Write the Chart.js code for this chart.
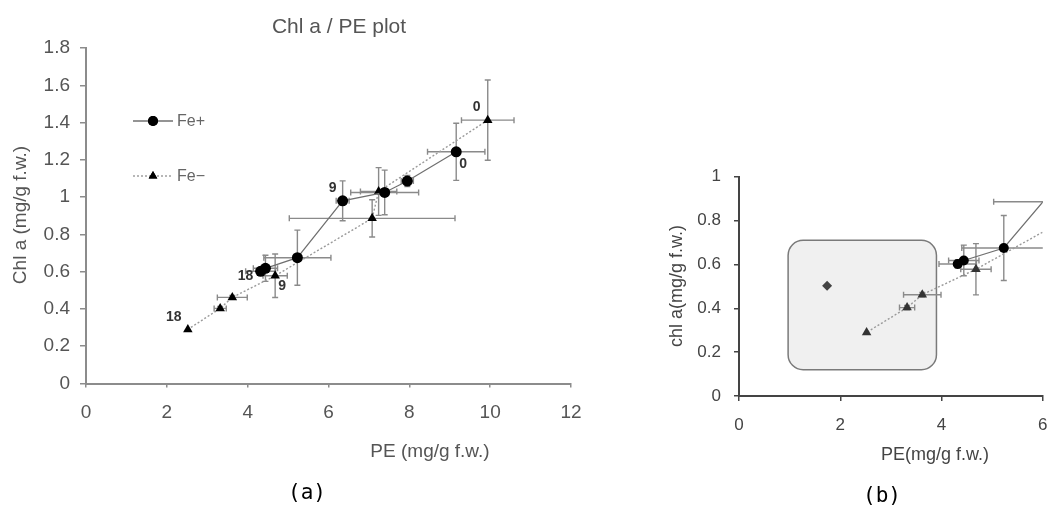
<!DOCTYPE html>
<html>
<head>
<meta charset="utf-8">
<script src="https://cdn.jsdelivr.net/npm/chart.js@4.4.0/dist/chart.umd.min.js"></script>
<style>
  html, body { margin: 0; padding: 0; background: #fff; }
  #wrap { position: relative; width: 1047px; height: 511px; overflow: hidden; }
  #chartA { position: absolute; left: 0; top: 0; }
  #chartB { position: absolute; left: 620px; top: 150px; }
</style>
</head>
<body>
<div id="wrap">
  <canvas id="chartA" width="600" height="511"></canvas>
  <canvas id="chartB" width="442" height="361"></canvas>
</div>
<script>
// ======================================================
// DATA
// ======================================================
const dayLabels = ["0", "", "", "9", "", "", "18"];

// Fe+ (circles)
const fePlusPE     = [9.16, 7.95, 7.39, 6.35, 5.23, 4.44, 4.32];
const fePlusChl    = [1.243, 1.086, 1.025, 0.980, 0.675, 0.618, 0.602];
const fePlusPEErr  = [0.71, 0.15, 0.84, 0.16, 0.83, 0.30, 0.37];
const fePlusChlErr = [0.153, 0.03, 0.12, 0.107, 0.148, 0.07, 0.02];

// Fe- (triangles)
const feMinusPE     = [9.94, 7.24, 7.08, 4.68, 3.62, 3.32, 2.52];
const feMinusChl    = [1.413, 1.03, 0.886, 0.578, 0.462, 0.403, 0.290];
const feMinusPEErr  = [0.65, 0.45, 2.05, 0.30, 0.37, 0.15, 0];
const feMinusChlErr = [0.215, 0.128, 0.10, 0.117, 0.01, 0.01, 0];

// extra point in panel (b)
const extraPE  = [1.74];
const extraChl = [0.503];

// axis ranges
const xRangeA = [0, 12], yRangeA = [0, 1.8];
const xRangeB = [0, 6],  yRangeB = [0, 1];

const toPoints = (xs, ys) => xs.map((v, i) => ({ x: v, y: ys[i] }));

Chart.defaults.font.family = "'Liberation Sans', Arial, sans-serif";
Chart.defaults.animation = false;


// ======================================================
// PLUGINS
// ======================================================
const errorBars = {
  id: "errorBars",
  beforeDatasetsDraw(chart) {
    const { ctx, chartArea: a, scales: { x, y } } = chart;
    const cap = 3;
    ctx.save();
    ctx.beginPath();
    ctx.rect(a.left, a.top, a.right - a.left, a.bottom - a.top);
    ctx.clip();
    ctx.strokeStyle = "#8a8a8a";
    ctx.lineWidth = 1.4;
    chart.data.datasets.forEach(ds => {
      if (!ds.xErr) return;
      ds.data.forEach((p, i) => {
        const px = x.getPixelForValue(p.x);
        const py = y.getPixelForValue(p.y);
        const ex = ds.xErr[i], ey = ds.yErr[i];
        ctx.beginPath();
        if (ex) {
          const l = x.getPixelForValue(p.x - ex), r = x.getPixelForValue(p.x + ex);
          ctx.moveTo(l, py); ctx.lineTo(r, py);
          ctx.moveTo(l, py - cap); ctx.lineTo(l, py + cap);
          ctx.moveTo(r, py - cap); ctx.lineTo(r, py + cap);
        }
        if (ey) {
          const t = y.getPixelForValue(p.y + ey), b = y.getPixelForValue(p.y - ey);
          ctx.moveTo(px, t); ctx.lineTo(px, b);
          ctx.moveTo(px - cap, t); ctx.lineTo(px + cap, t);
          ctx.moveTo(px - cap, b); ctx.lineTo(px + cap, b);
        }
        ctx.stroke();
      });
    });
    ctx.restore();
  }
};

function makeTexts(items) {
  return {
    id: "texts",
    afterDraw(chart) {
      const ctx = chart.ctx;
      items.forEach(t => {
        ctx.save();
        ctx.translate(t.x, t.y);
        if (t.rot) ctx.rotate(t.rot);
        ctx.font = t.font;
        ctx.fillStyle = t.color || "#555";
        ctx.textAlign = "center";
        ctx.textBaseline = "middle";
        ctx.fillText(t.text, 0, 0);
        ctx.restore();
      });
    }
  };
}

// day labels next to the points of panel (a)
const labelOffsets = [
  [[7, 12], null, null, [-10, -13], null, null, [-15, 5]],
  [[-11, -13], null, null, [7, 10], null, null, [-14, -12]]
];
const dayLabelPlugin = {
  id: "dayLabels",
  afterDatasetsDraw(chart) {
    const ctx = chart.ctx;
    ctx.save();
    ctx.font = "bold 14px 'Liberation Sans', Arial, sans-serif";
    ctx.fillStyle = "#333";
    ctx.textAlign = "center";
    ctx.textBaseline = "middle";
    chart.data.datasets.forEach((ds, di) => {
      if (!ds.days) return;
      const meta = chart.getDatasetMeta(di);
      ds.days.forEach((d, i) => {
        if (!d) return;
        const el = meta.data[i];
        const [dx, dy] = labelOffsets[di][i];
        ctx.fillText(d, el.x + dx, el.y + dy);
      });
    });
    ctx.restore();
  }
};

// hand-made legend of panel (a)
const legendA = {
  id: "legendA",
  afterDraw(chart) {
    const ctx = chart.ctx;
    const rows = [
      { y: 121, text: "Fe+", dash: [], color: "#707070", style: "circle" },
      { y: 176, text: "Fe\u2212", dash: [2, 2], color: "#a0a0a0", style: "triangle" }
    ];
    rows.forEach(r => {
      ctx.save();
      ctx.strokeStyle = r.color;
      ctx.lineWidth = 1.5;
      ctx.setLineDash(r.dash);
      ctx.beginPath();
      ctx.moveTo(133, r.y); ctx.lineTo(173, r.y);
      ctx.stroke();
      ctx.setLineDash([]);
      Chart.helpers.drawPoint(ctx, { pointStyle: r.style, radius: 5, borderWidth: 0 }, 153, r.y);
      ctx.fillStyle = "#000";
      ctx.fill();
      ctx.font = "16px 'Liberation Sans', Arial, sans-serif";
      ctx.fillStyle = "#666";
      ctx.textBaseline = "middle";
      ctx.fillText(r.text, 177, r.y + 1);
      ctx.restore();
    });
  }
};

// shaded rounded box of panel (b)
const boxRegion = { xMin: 0.97, xMax: 3.9, yMin: 0.12, yMax: 0.71 };
const shadeBox = {
  id: "shadeBox",
  beforeDatasetsDraw(chart) {
    const { ctx, scales: { x, y } } = chart;
    const l = x.getPixelForValue(boxRegion.xMin), r = x.getPixelForValue(boxRegion.xMax);
    const t = y.getPixelForValue(boxRegion.yMax), b = y.getPixelForValue(boxRegion.yMin);
    ctx.save();
    ctx.beginPath();
    ctx.roundRect(l, t, r - l, b - t, 15);
    ctx.fillStyle = "#f0f0f0";
    ctx.fill();
    ctx.strokeStyle = "#7a7a7a";
    ctx.lineWidth = 1.5;
    ctx.stroke();
    ctx.restore();
  }
};


// ======================================================
// SHARED HELPERS
// ======================================================
const tickText = v => String(+v.toFixed(1));

function axis(range, step, o) {
  return {
    type: "linear",
    min: range[0],
    max: range[1],
    ticks: { stepSize: step, color: o.tickColor, font: { size: o.tickSize }, padding: o.pad, callback: tickText },
    grid: { drawOnChartArea: false, drawTicks: true, tickLength: o.tickLen, color: o.axisColor, lineWidth: 1.5 },
    border: { color: o.axisColor, width: 2 },
    afterFit: o.fit
  };
}

function datasets(mark) {
  return [
    {
      label: "Fe+",
      data: toPoints(fePlusPE, fePlusChl),
      xErr: fePlusPEErr, yErr: fePlusChlErr,
      days: mark.days ? dayLabels : null,
      showLine: true,
      borderColor: "#707070",
      borderWidth: 1.2,
      pointStyle: "circle",
      pointRadius: mark.circle,
      pointBorderWidth: 0,
      pointBackgroundColor: "#000",
      pointBorderColor: "#000"
    },
    {
      label: "Fe\u2212",
      data: toPoints(feMinusPE, feMinusChl),
      xErr: feMinusPEErr, yErr: feMinusChlErr,
      days: mark.days ? dayLabels : null,
      showLine: true,
      borderColor: "#9a9a9a",
      borderWidth: 1.4,
      borderDash: [2, 2],
      pointStyle: "triangle",
      pointRadius: mark.tri,
      pointBorderWidth: 0,
      pointBackgroundColor: mark.triColor,
      pointBorderColor: mark.triColor
    }
  ];
}


// ======================================================
// PANEL (a)
// ======================================================
new Chart(document.getElementById("chartA"), {
  type: "scatter",
  data: { datasets: datasets({ days: true, circle: 5.5, tri: 5.5, triColor: "#000" }) },
  options: {
    responsive: false,
    events: [],
    layout: { autoPadding: false, padding: { left: 0, right: 29, top: 48, bottom: 0 } },
    plugins: { legend: { display: false }, tooltip: { enabled: false } },
    scales: {
      x: axis(xRangeA, 2, { tickColor: "#555", tickSize: 19, pad: 14, tickLen: 4, axisColor: "#8c8c8c",
        fit: s => { s.height = 511 - 383.5; } }),
      y: axis(yRangeA, 0.2, { tickColor: "#555", tickSize: 19, pad: 10, tickLen: 6, axisColor: "#8c8c8c",
        fit: s => { s.width = 86; } })
    }
  },
  plugins: [
    errorBars, dayLabelPlugin, legendA,
    makeTexts([
      { text: "Chl a / PE plot", x: 339, y: 27, font: "21px 'Liberation Sans', Arial, sans-serif", color: "#555" },
      { text: "PE (mg/g f.w.)", x: 430, y: 452, font: "19px 'Liberation Sans', Arial, sans-serif", color: "#555" },
      { text: "Chl a (mg/g f.w.)", x: 21, y: 215, rot: -Math.PI / 2, font: "19px 'Liberation Sans', Arial, sans-serif", color: "#555" },
      { text: "(a)", x: 307, y: 494, font: "21px 'DejaVu Sans Mono', monospace", color: "#000" }
    ])
  ]
});


// ======================================================
// PANEL (b)
// ======================================================
const dsB = datasets({ days: false, circle: 5, tri: 5.5, triColor: "#333" });
dsB.push({
  label: "extra",
  data: toPoints(extraPE, extraChl),
  pointStyle: "rectRot",
  pointRadius: 5,
  pointBorderWidth: 0,
  pointBackgroundColor: "#444",
  pointBorderColor: "#444"
});

new Chart(document.getElementById("chartB"), {
  type: "scatter",
  data: { datasets: dsB },
  options: {
    responsive: false,
    events: [],
    layout: { autoPadding: false, padding: { left: 0, right: 5.3, top: 26.7, bottom: 0 } },
    plugins: { legend: { display: false }, tooltip: { enabled: false } },
    scales: {
      x: axis(xRangeB, 2, { tickColor: "#444", tickSize: 17, pad: 14.5, tickLen: 5, axisColor: "#444",
        fit: s => { s.height = 361 - 246; } }),
      y: axis(yRangeB, 0.2, { tickColor: "#444", tickSize: 17, pad: 13, tickLen: 5, axisColor: "#444",
        fit: s => { s.width = 119; } })
    }
  },
  plugins: [
    shadeBox, errorBars,
    makeTexts([
      { text: "PE(mg/g f.w.)", x: 315, y: 305, font: "18px 'Liberation Sans', Arial, sans-serif", color: "#444" },
      { text: "chl a(mg/g f.w.)", x: 57, y: 136, rot: -Math.PI / 2, font: "18px 'Liberation Sans', Arial, sans-serif", color: "#444" },
      { text: "(b)", x: 262, y: 347, font: "21px 'DejaVu Sans Mono', monospace", color: "#000" }
    ])
  ]
});
</script>
</body>
</html>
